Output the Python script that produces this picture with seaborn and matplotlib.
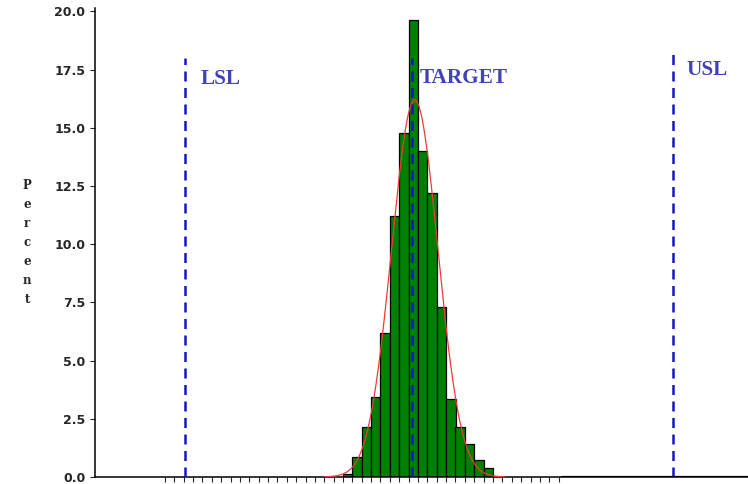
import numpy as np
import pandas as pd
import matplotlib
matplotlib.use('Agg')
import matplotlib.pyplot as plt
import seaborn as sns

# histogram: percent of parts falling in each bin
bin_start = 9.63
bin_width = 0.05
percent = [0.12, 0.86, 2.15, 3.43, 6.18, 11.2, 14.8, 19.65,
           14.0, 12.2, 7.3, 3.33, 2.15, 1.43, 0.72, 0.4]

# specification limits and their labels
spec_names = ['LSL', 'TARGET', 'USL']
spec_values = [8.79, 10.0, 11.39]
spec_line_top = [18.0, 18.0, 18.45]
spec_label_y = [17.1, 17.15, 17.5]
spec_label_offset = [11, 5, 10]

y_ticks = [0.0, 2.5, 5.0, 7.5, 10.0, 12.5, 15.0, 17.5, 20.0]
x_tick_steps = list(range(-19, 24))

sns.set_style('white')
plt.rcParams['font.family'] = ['DejaVu Sans']

fig = plt.figure(figsize=(7.48, 4.84), dpi=100)
ax = fig.add_axes([95 / 748, 1 - 477 / 484, 653 / 748, 469 / 484])

edges = bin_start + bin_width * np.arange(len(percent) + 1)
centers = (edges[:-1] + edges[1:]) / 2
hist_df = pd.DataFrame({'value': centers, 'pct': percent})
# seaborn compares bins to "auto" when weights are given, so pass a plain list
sns.histplot(data=hist_df, x='value', weights='pct', bins=edges.tolist(), stat='count',
             color='#008000', edgecolor='black', linewidth=0.9, alpha=1, ax=ax)

# fitted normal curve from the binned data
w = np.array(percent)
mean = np.average(centers, weights=w)
sd = np.sqrt(np.average((centers - mean) ** 2, weights=w))
xs = np.linspace(mean - 3.9 * sd, mean + 3.9 * sd, 300)
ys = 100 * bin_width * np.exp(-0.5 * ((xs - mean) / sd) ** 2) / (sd * np.sqrt(2 * np.pi))
sns.lineplot(x=xs, y=ys, color='#f03a3a', linewidth=0.9, ax=ax, zorder=3)

ax.vlines(spec_values, 0, spec_line_top, colors='#1515c8', linewidth=1.8,
          linestyles=[(0, (4, 2.6))], zorder=4)
for name, v, ly, off in zip(spec_names, spec_values, spec_label_y, spec_label_offset):
    ax.annotate(name, xy=(v, ly), xytext=(off, 0), textcoords='offset points',
                ha='left', va='center', fontsize=15.3, family='Liberation Serif',
                weight='bold', color='#4242b8')

# 187.5 px per unit, bins start at x=343 px
ax.set_xlim(bin_start - 248 / 187.5, bin_start + 405 / 187.5)
ax.set_ylim(0, 20.15)

ax.set_xticks([bin_start + k * bin_width for k in x_tick_steps])
ax.set_yticks(y_ticks)
ax.set_yticklabels([f'{t:.1f}' for t in y_ticks])
ax.tick_params(axis='x', direction='out', length=3.6, width=0.8, bottom=True, labelbottom=False)
ax.tick_params(axis='y', direction='out', length=3.6, width=0.8, left=True, pad=3.5,
               labelsize=9)
for lab in ax.get_yticklabels():
    lab.set_fontweight('bold')

# heavier baseline to the right of the tick marks
x0, x1 = ax.get_xlim()
last_tick = bin_start + x_tick_steps[-1] * bin_width
ax.axhline(0, xmin=(last_tick + 0.02 - x0) / (x1 - x0), xmax=1, color='black',
           linewidth=1.6, zorder=5)

ax.set_xlabel('')
ax.set_ylabel('\n'.join('Percent'), rotation=0, fontsize=8.5, family='DejaVu Serif',
              weight='bold', linespacing=1.6, ha='center', va='center')
ax.yaxis.set_label_coords(-0.104, 0.5)

sns.despine(ax=ax)
ax.spines['left'].set_linewidth(1.1)
ax.spines['bottom'].set_linewidth(1.1)
ax.spines['left'].set_color('black')
ax.spines['bottom'].set_color('black')

fig.savefig('out.png', dpi=100)
